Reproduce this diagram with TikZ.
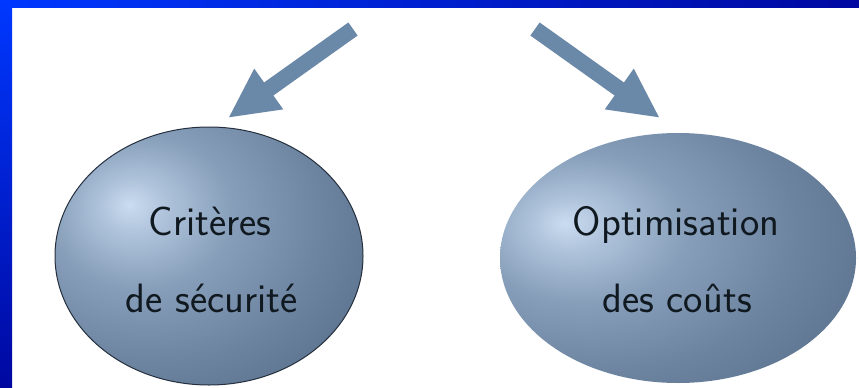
\documentclass[tikz,border=0pt]{standalone}
\usetikzlibrary{arrows.meta}
\definecolor{arrowblue}{HTML}{6A88A8}
\definecolor{shA}{HTML}{CADCF0}
\definecolor{shB}{HTML}{B0C4DC}
\definecolor{shC}{HTML}{869EB9}
\definecolor{shD}{HTML}{6C84A0}
\definecolor{shE}{HTML}{576D8A}
\definecolor{shF}{HTML}{3E4E66}
\definecolor{txt}{HTML}{101820}
\definecolor{frameA}{HTML}{0038FF}
\definecolor{frameB}{HTML}{0008A0}
\pgfdeclareradialshading{ballshadeL}{\pgfpoint{-13bp}{10bp}}{%
  color(0bp)=(shA); color(5bp)=(shB); color(15bp)=(shC); color(28bp)=(shD); color(42bp)=(shE); color(62bp)=(shF); color(100bp)=(shF)}
\pgfdeclareradialshading{ballshadeR}{\pgfpoint{-16bp}{7bp}}{%
  color(0bp)=(shA); color(5bp)=(shB); color(15bp)=(shC); color(28bp)=(shD); color(44bp)=(shE); color(64bp)=(shF); color(100bp)=(shF)}
\tikzset{
  bigarrow/.style={draw=arrowblue, line width=16pt, line cap=butt,
    -{Triangle[width=46pt,length=50pt]}},
  lbl/.style={font=\sffamily\fontsize{41}{50}\selectfont, text=txt, anchor=base}
}
\begin{document}
\begin{tikzpicture}[x=1pt,y=-1pt]
\useasboundingbox (0,0) rectangle (859,388);
\fill[white] (0,0) rectangle (859,388);
% blue frame
\shade[left color=frameA, right color=frameB] (0,0) rectangle (859,7);
\shade[top color=frameA, bottom color=frameB] (0,0) rectangle (12,388);
% ellipses
\path[shading=ballshadeL, draw=shF!60!black, line width=1pt] (209,256) ellipse [x radius=154, y radius=129];
\path[shading=ballshadeR] (678,258) ellipse [x radius=178, y radius=125];
\node[lbl] (crit1) at (210,235) {Critères};
\node[lbl] (crit2) at (212,312) {de sécurité};
\node[lbl] (opti1) at (676,235) {Optimisation};
\node[lbl] (opti2) at (677,312) {des coûts};
% arrows
\coordinate (ltail) at (353,29);
\coordinate (ltip) at (228,118);
\coordinate (rtail) at (535,29);
\coordinate (rtip) at (660,118);
\draw[bigarrow] (ltail) -- (ltip);
\draw[bigarrow] (rtail) -- (rtip);
\end{tikzpicture}
\end{document}
